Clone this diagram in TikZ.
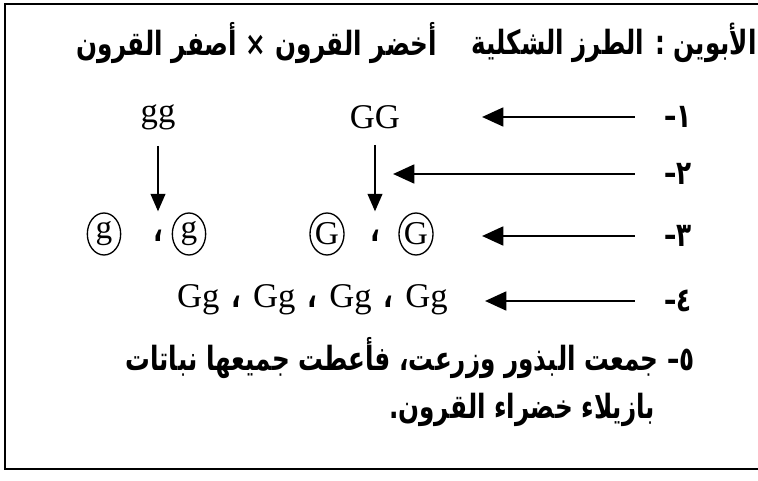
\documentclass[tikz,border=0pt]{standalone}
\usepackage{fontspec}
\setmainfont{Liberation Serif}
\newfontfamily\arabicfont[Script=Arabic, FakeStretch=0.74]{DejaVu Sans}
\TeXXeTstate=1
\usetikzlibrary{arrows.meta, shapes.geometric}
\newcommand{\fcoma}{\hspace{9pt}{\arabicfont\bfseries ،}\hspace{9pt}}

\begin{document}
\begin{tikzpicture}[
  x=0.75pt, y=-0.75pt,
  ar/.style={font=\arabicfont\bfseries\fontsize{25}{29}\selectfont, inner sep=0pt},
  gen/.style={font=\fontsize{26}{30}\selectfont, inner sep=0pt},
  gameto/.style={ellipse, draw, line width=1pt, minimum width=25pt, minimum height=31.5pt,
                 inner sep=0pt, font=\fontsize{25}{29}\selectfont},
  coma/.style={font=\arabicfont\bfseries\fontsize{26}{30}\selectfont, inner sep=0pt},
  arr/.style={-{Triangle[length=16pt, width=14pt]}, line width=2.2pt},
  baja/.style={-{Triangle[length=13pt, width=11pt]}, line width=1.2pt},
  marco/.style={line width=1.5pt},
]
\useasboundingbox (0,0) rectangle (758,481);

% --- Marco (abierto a la derecha) ---
\draw[marco] (760,4) -- (5,4) -- (5,469) -- (760,469);

% --- Encabezado ---
\node[ar, anchor=east] (hdrR) at (757,43) {\beginR الأبوين : الطرز الشكلية\endR};
\node[ar, anchor=east] (hdrL) at (437,43) {\beginR أخضر القرون × أصفر القرون\endR};

% --- Numeros ---
\node[ar, anchor=east] (n1) at (692,117) {\beginR ١–\endR};
\node[ar, anchor=east] (n2) at (692,174) {\beginR ٢–\endR};
\node[ar, anchor=east] (n3) at (692,236) {\beginR ٣–\endR};
\node[ar, anchor=east] (n4) at (692,301) {\beginR ٤–\endR};

% --- Padres ---
\node[gen] (gg) at (158,117) {gg};
\node[gen] (GG) at (375,117) {GG};

% --- Gametos ---
\node[gameto] (g1) at (104,234) {g};
\node[coma]   (cg) at (158,236) {،};
\node[gameto] (g2) at (189,234) {g};
\node[gameto] (G1) at (327,234) {G};
\node[coma]   (cG) at (375,236) {،};
\node[gameto] (G2) at (416,234) {G};

% --- Primera generacion ---
\node[gen, anchor=east] (f1) at (448,300) {Gg\fcoma Gg\fcoma Gg\fcoma Gg};

% --- Paso 5 ---
\node[ar, anchor=east] (p5a) at (695,358) {\beginR ٥– جمعت البذور وزرعت، فأعطت جميعها نباتات\endR};
\node[ar, anchor=east] (p5b) at (655,410) {\beginR بازيلاء خضراء القرون.\endR};

% --- Flechas ---
\coordinate (p1) at (482,117);
\coordinate (p2) at (393,174);
\coordinate (p3) at (482,236);
\coordinate (p4) at (485,301);
\draw[baja, shorten <=12pt, shorten >=14pt] (gg) -- (cg);
\draw[baja, shorten <=12pt, shorten >=14pt] (GG) -- (cG);
\draw[arr, shorten <=22pt] (n1.west) -- (p1);
\draw[arr, shorten <=22pt] (n2.west) -- (p2);
\draw[arr, shorten <=22pt] (n3.west) -- (p3);
\draw[arr, shorten <=22pt] (n4.west) -- (p4);

\end{tikzpicture}
\end{document}
